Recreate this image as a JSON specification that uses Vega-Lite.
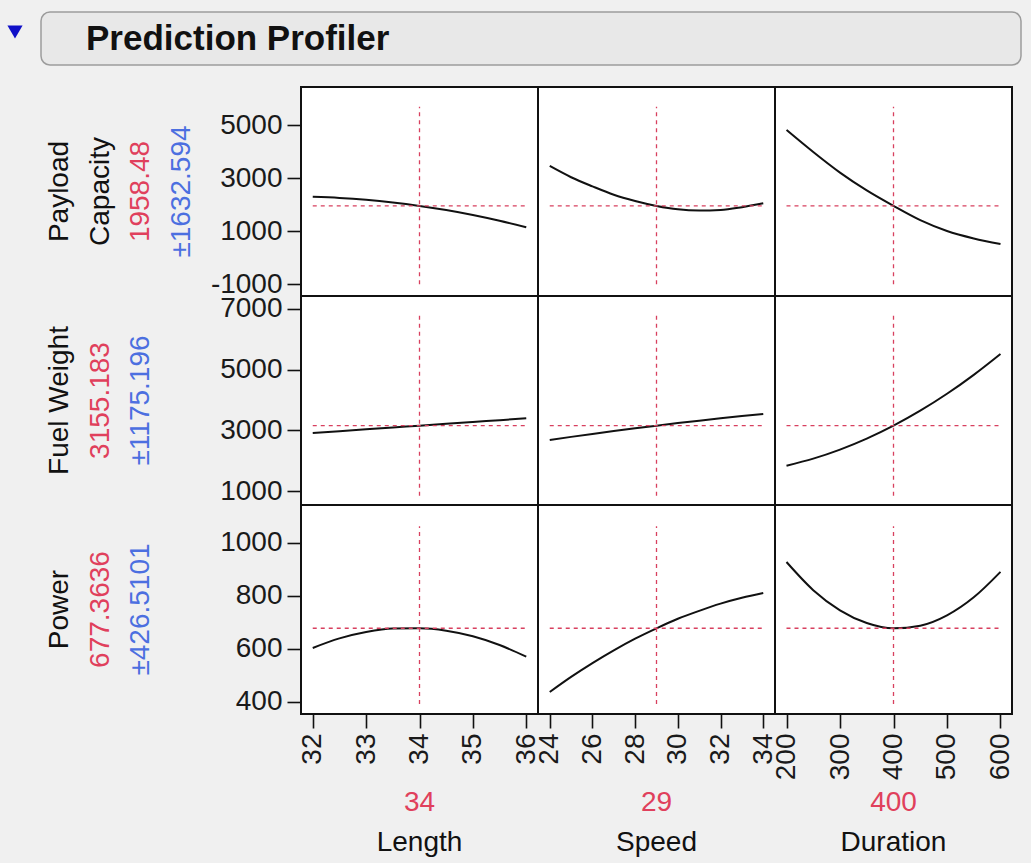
{
  "$schema": "https://vega.github.io/schema/vega-lite/v6.json",
  "background": "#f0f0f0",
  "padding": {"left": 0, "top": 11, "right": 10, "bottom": 9},
  "config": {
    "view": {"stroke": "#111111", "strokeWidth": 2, "fill": "white"},
    "axis": {"domain": false, "grid": false, "tickColor": "#111111", "tickSize": 14, "tickWidth": 1.6, "labelFont": "Liberation Sans", "labelFontSize": 28, "labelColor": "#1a1a1a", "labelPadding": 5, "labelOverlap": false, "labelBound": false, "labelFlush": false}
  },
  "datasets": {
    "curves": [
      {"r": "PC", "f": "Length", "x": 32, "y": 2300}, {"r": "PC", "f": "Length", "x": 32.5, "y": 2258}, {"r": "PC", "f": "Length", "x": 33, "y": 2188}, {"r": "PC", "f": "Length", "x": 33.5, "y": 2088}, {"r": "PC", "f": "Length", "x": 34, "y": 1958}, {"r": "PC", "f": "Length", "x": 34.5, "y": 1800}, {"r": "PC", "f": "Length", "x": 35, "y": 1613}, {"r": "PC", "f": "Length", "x": 35.5, "y": 1396}, {"r": "PC", "f": "Length", "x": 36, "y": 1150},
      {"r": "PC", "f": "Speed", "x": 24, "y": 3464}, {"r": "PC", "f": "Speed", "x": 25, "y": 3040}, {"r": "PC", "f": "Speed", "x": 26, "y": 2695}, {"r": "PC", "f": "Speed", "x": 27, "y": 2380}, {"r": "PC", "f": "Speed", "x": 28, "y": 2145}, {"r": "PC", "f": "Speed", "x": 29, "y": 1958}, {"r": "PC", "f": "Speed", "x": 30, "y": 1830}, {"r": "PC", "f": "Speed", "x": 31, "y": 1785}, {"r": "PC", "f": "Speed", "x": 32, "y": 1805}, {"r": "PC", "f": "Speed", "x": 33, "y": 1910}, {"r": "PC", "f": "Speed", "x": 34, "y": 2057},
      {"r": "PC", "f": "Duration", "x": 200, "y": 4823}, {"r": "PC", "f": "Duration", "x": 250, "y": 3990}, {"r": "PC", "f": "Duration", "x": 300, "y": 3212}, {"r": "PC", "f": "Duration", "x": 350, "y": 2541}, {"r": "PC", "f": "Duration", "x": 400, "y": 1958}, {"r": "PC", "f": "Duration", "x": 450, "y": 1420}, {"r": "PC", "f": "Duration", "x": 500, "y": 1010}, {"r": "PC", "f": "Duration", "x": 550, "y": 730}, {"r": "PC", "f": "Duration", "x": 600, "y": 520},
      {"r": "FW", "f": "Length", "x": 32, "y": 2915}, {"r": "FW", "f": "Length", "x": 32.5, "y": 2975}, {"r": "FW", "f": "Length", "x": 33, "y": 3035}, {"r": "FW", "f": "Length", "x": 33.5, "y": 3095}, {"r": "FW", "f": "Length", "x": 34, "y": 3155}, {"r": "FW", "f": "Length", "x": 34.5, "y": 3215}, {"r": "FW", "f": "Length", "x": 35, "y": 3275}, {"r": "FW", "f": "Length", "x": 35.5, "y": 3335}, {"r": "FW", "f": "Length", "x": 36, "y": 3395},
      {"r": "FW", "f": "Speed", "x": 24, "y": 2685}, {"r": "FW", "f": "Speed", "x": 25, "y": 2786}, {"r": "FW", "f": "Speed", "x": 26, "y": 2883}, {"r": "FW", "f": "Speed", "x": 27, "y": 2977}, {"r": "FW", "f": "Speed", "x": 28, "y": 3068}, {"r": "FW", "f": "Speed", "x": 29, "y": 3155}, {"r": "FW", "f": "Speed", "x": 30, "y": 3239}, {"r": "FW", "f": "Speed", "x": 31, "y": 3319}, {"r": "FW", "f": "Speed", "x": 32, "y": 3396}, {"r": "FW", "f": "Speed", "x": 33, "y": 3470}, {"r": "FW", "f": "Speed", "x": 34, "y": 3540},
      {"r": "FW", "f": "Duration", "x": 200, "y": 1839}, {"r": "FW", "f": "Duration", "x": 250, "y": 2070}, {"r": "FW", "f": "Duration", "x": 300, "y": 2367}, {"r": "FW", "f": "Duration", "x": 350, "y": 2728}, {"r": "FW", "f": "Duration", "x": 400, "y": 3155}, {"r": "FW", "f": "Duration", "x": 450, "y": 3647}, {"r": "FW", "f": "Duration", "x": 500, "y": 4204}, {"r": "FW", "f": "Duration", "x": 550, "y": 4827}, {"r": "FW", "f": "Duration", "x": 600, "y": 5514},
      {"r": "PW", "f": "Length", "x": 32, "y": 603}, {"r": "PW", "f": "Length", "x": 32.5, "y": 639}, {"r": "PW", "f": "Length", "x": 33, "y": 663}, {"r": "PW", "f": "Length", "x": 33.5, "y": 676}, {"r": "PW", "f": "Length", "x": 34, "y": 677}, {"r": "PW", "f": "Length", "x": 34.5, "y": 668}, {"r": "PW", "f": "Length", "x": 35, "y": 647}, {"r": "PW", "f": "Length", "x": 35.5, "y": 614}, {"r": "PW", "f": "Length", "x": 36, "y": 570},
      {"r": "PW", "f": "Speed", "x": 24, "y": 437}, {"r": "PW", "f": "Speed", "x": 25, "y": 494}, {"r": "PW", "f": "Speed", "x": 26, "y": 546}, {"r": "PW", "f": "Speed", "x": 27, "y": 594}, {"r": "PW", "f": "Speed", "x": 28, "y": 638}, {"r": "PW", "f": "Speed", "x": 29, "y": 677}, {"r": "PW", "f": "Speed", "x": 30, "y": 713}, {"r": "PW", "f": "Speed", "x": 31, "y": 743}, {"r": "PW", "f": "Speed", "x": 32, "y": 770}, {"r": "PW", "f": "Speed", "x": 33, "y": 792}, {"r": "PW", "f": "Speed", "x": 34, "y": 810},
      {"r": "PW", "f": "Duration", "x": 200, "y": 927}, {"r": "PW", "f": "Duration", "x": 250, "y": 821}, {"r": "PW", "f": "Duration", "x": 300, "y": 745}, {"r": "PW", "f": "Duration", "x": 350, "y": 697}, {"r": "PW", "f": "Duration", "x": 400, "y": 677}, {"r": "PW", "f": "Duration", "x": 450, "y": 687}, {"r": "PW", "f": "Duration", "x": 500, "y": 726}, {"r": "PW", "f": "Duration", "x": 550, "y": 794}, {"r": "PW", "f": "Duration", "x": 600, "y": 890}
    ],
    "refs": [
      {"r": "PC", "f": "Length", "xmin": 32, "xmax": 36, "xcur": 34, "ycur": 1958.48, "ylo": -1000, "yhi": 5700},
      {"r": "PC", "f": "Speed", "xmin": 24, "xmax": 34, "xcur": 29, "ycur": 1958.48, "ylo": -1000, "yhi": 5700},
      {"r": "PC", "f": "Duration", "xmin": 200, "xmax": 600, "xcur": 400, "ycur": 1958.48, "ylo": -1000, "yhi": 5700},
      {"r": "FW", "f": "Length", "xmin": 32, "xmax": 36, "xcur": 34, "ycur": 3155.183, "ylo": 850, "yhi": 6830},
      {"r": "FW", "f": "Speed", "xmin": 24, "xmax": 34, "xcur": 29, "ycur": 3155.183, "ylo": 850, "yhi": 6830},
      {"r": "FW", "f": "Duration", "xmin": 200, "xmax": 600, "xcur": 400, "ycur": 3155.183, "ylo": 850, "yhi": 6830},
      {"r": "PW", "f": "Length", "xmin": 32, "xmax": 36, "xcur": 34, "ycur": 677.3636, "ylo": 392, "yhi": 1062},
      {"r": "PW", "f": "Speed", "xmin": 24, "xmax": 34, "xcur": 29, "ycur": 677.3636, "ylo": 392, "yhi": 1062},
      {"r": "PW", "f": "Duration", "xmin": 200, "xmax": 600, "xcur": 400, "ycur": 677.3636, "ylo": 392, "yhi": 1062}
    ],
    "labels": [
      {"r": "PC", "line": 0, "text": "Payload", "kind": "name"},
      {"r": "PC", "line": 1, "text": "Capacity", "kind": "name"},
      {"r": "PC", "line": 2, "text": "1958.48", "kind": "value"},
      {"r": "PC", "line": 3, "text": "±1632.594", "kind": "error"},
      {"r": "FW", "line": 0, "text": "Fuel Weight", "kind": "name"},
      {"r": "FW", "line": 1, "text": "3155.183", "kind": "value"},
      {"r": "FW", "line": 2, "text": "±1175.196", "kind": "error"},
      {"r": "PW", "line": 0, "text": "Power", "kind": "name"},
      {"r": "PW", "line": 1, "text": "677.3636", "kind": "value"},
      {"r": "PW", "line": 2, "text": "±426.5101", "kind": "error"}
    ],
    "factors": [
      {"f": "Length", "line": 0, "text": "34", "kind": "value"},
      {"f": "Length", "line": 1, "text": "Length", "kind": "name"},
      {"f": "Speed", "line": 0, "text": "29", "kind": "value"},
      {"f": "Speed", "line": 1, "text": "Speed", "kind": "name"},
      {"f": "Duration", "line": 0, "text": "400", "kind": "value"},
      {"f": "Duration", "line": 1, "text": "Duration", "kind": "name"}
    ]
  },
  "spacing": 20,
  "vconcat": [
    {
      "spacing": 10,
      "hconcat": [
        {"width": 30, "height": 40, "view": {"stroke": null, "fill": null}, "data": {"values": [{"icon": "collapse"}]}, "mark": {"type": "point", "shape": "triangle-down", "filled": true, "color": "#1010c8", "opacity": 1, "size": 230}},
        {"width": 980, "height": 53, "view": {"stroke": "#9c9c9c", "strokeWidth": 1.5, "fill": "#e8e8e8", "cornerRadius": 9},
         "title": {"text": "Prediction Profiler", "orient": "top", "anchor": "start", "frame": "group", "offset": -73, "dx": 45, "baseline": "alphabetic", "fontSize": 35, "font": "Liberation Sans", "fontWeight": "bold", "color": "#111111"},
         "data": {"values": []}, "mark": "point"}
      ]
    },
    {
      "columns": 4,
      "spacing": 0,
      "bounds": "flush",
      "align": "each",
      "concat": [
        {"width": 301, "height": 209, "view": {"stroke": null, "fill": null}, "data": {"name": "labels"}, "transform": [{"filter": "datum.r == 'PC'"}],
         "mark": {"type": "text", "angle": 270, "fontSize": 28, "font": "Liberation Sans", "align": "center", "baseline": "middle"},
         "encoding": {"x": {"field": "line", "type": "quantitative", "scale": {"domain": [-1.474, 5.921], "nice": false, "zero": false}, "axis": null}, "text": {"field": "text"},
                      "color": {"field": "kind", "type": "nominal", "scale": {"domain": ["name", "value", "error"], "range": ["#111111", "#e0405c", "#4c6fe0"]}, "legend": null}}},
        {"width": 237, "height": 209, "layer": [
          {"data": {"name": "curves"}, "transform": [{"filter": "datum.r == 'PC' && datum.f == 'Length'"}], "mark": {"type": "line", "color": "#111111", "strokeWidth": 2, "interpolate": "monotone"},
           "encoding": {"x": {"field": "x", "type": "quantitative", "scale": {"domain": [31.78, 36.22], "nice": false, "zero": false}, "axis": null},
                        "y": {"field": "y", "type": "quantitative", "scale": {"domain": [-1442, 6445], "nice": false, "zero": false}, "axis": {"values": [-1000, 0, 1000, 2000, 3000, 4000, 5000, 6000], "format": "d", "labelExpr": "datum.value % 2000 == 0 ? '' : replace(datum.label, '\u2212', '-')", "title": null}}}},
          {"data": {"name": "refs"}, "transform": [{"filter": "datum.r == 'PC' && datum.f == 'Length'"}], "mark": {"type": "rule", "color": "#d8405f", "strokeWidth": 1.3, "strokeDash": [4, 4]},
           "encoding": {"x": {"field": "xmin", "type": "quantitative", "scale": {"domain": [31.78, 36.22], "nice": false, "zero": false}, "axis": null}, "x2": {"field": "xmax"}, "y": {"field": "ycur", "type": "quantitative", "scale": {"domain": [-1442, 6445], "nice": false, "zero": false}}}},
          {"data": {"name": "refs"}, "transform": [{"filter": "datum.r == 'PC' && datum.f == 'Length'"}], "mark": {"type": "rule", "color": "#d8405f", "strokeWidth": 1.3, "strokeDash": [4, 4]},
           "encoding": {"x": {"field": "xcur", "type": "quantitative", "scale": {"domain": [31.78, 36.22], "nice": false, "zero": false}, "axis": null}, "y": {"field": "ylo", "type": "quantitative", "scale": {"domain": [-1442, 6445], "nice": false, "zero": false}}, "y2": {"field": "yhi"}}}
        ]},
        {"width": 237, "height": 209, "layer": [
          {"data": {"name": "curves"}, "transform": [{"filter": "datum.r == 'PC' && datum.f == 'Speed'"}], "mark": {"type": "line", "color": "#111111", "strokeWidth": 2, "interpolate": "monotone"},
           "encoding": {"x": {"field": "x", "type": "quantitative", "scale": {"domain": [23.45, 34.55], "nice": false, "zero": false}, "axis": null},
                        "y": {"field": "y", "type": "quantitative", "scale": {"domain": [-1442, 6445], "nice": false, "zero": false}, "axis": null}}},
          {"data": {"name": "refs"}, "transform": [{"filter": "datum.r == 'PC' && datum.f == 'Speed'"}], "mark": {"type": "rule", "color": "#d8405f", "strokeWidth": 1.3, "strokeDash": [4, 4]},
           "encoding": {"x": {"field": "xmin", "type": "quantitative", "scale": {"domain": [23.45, 34.55], "nice": false, "zero": false}, "axis": null}, "x2": {"field": "xmax"}, "y": {"field": "ycur", "type": "quantitative", "scale": {"domain": [-1442, 6445], "nice": false, "zero": false}, "axis": null}}},
          {"data": {"name": "refs"}, "transform": [{"filter": "datum.r == 'PC' && datum.f == 'Speed'"}], "mark": {"type": "rule", "color": "#d8405f", "strokeWidth": 1.3, "strokeDash": [4, 4]},
           "encoding": {"x": {"field": "xcur", "type": "quantitative", "scale": {"domain": [23.45, 34.55], "nice": false, "zero": false}, "axis": null}, "y": {"field": "ylo", "type": "quantitative", "scale": {"domain": [-1442, 6445], "nice": false, "zero": false}, "axis": null}, "y2": {"field": "yhi"}}}
        ]},
        {"width": 237, "height": 209, "layer": [
          {"data": {"name": "curves"}, "transform": [{"filter": "datum.r == 'PC' && datum.f == 'Duration'"}], "mark": {"type": "line", "color": "#111111", "strokeWidth": 2, "interpolate": "monotone"},
           "encoding": {"x": {"field": "x", "type": "quantitative", "scale": {"domain": [178.5, 621.5], "nice": false, "zero": false}, "axis": null},
                        "y": {"field": "y", "type": "quantitative", "scale": {"domain": [-1442, 6445], "nice": false, "zero": false}, "axis": null}}},
          {"data": {"name": "refs"}, "transform": [{"filter": "datum.r == 'PC' && datum.f == 'Duration'"}], "mark": {"type": "rule", "color": "#d8405f", "strokeWidth": 1.3, "strokeDash": [4, 4]},
           "encoding": {"x": {"field": "xmin", "type": "quantitative", "scale": {"domain": [178.5, 621.5], "nice": false, "zero": false}, "axis": null}, "x2": {"field": "xmax"}, "y": {"field": "ycur", "type": "quantitative", "scale": {"domain": [-1442, 6445], "nice": false, "zero": false}, "axis": null}}},
          {"data": {"name": "refs"}, "transform": [{"filter": "datum.r == 'PC' && datum.f == 'Duration'"}], "mark": {"type": "rule", "color": "#d8405f", "strokeWidth": 1.3, "strokeDash": [4, 4]},
           "encoding": {"x": {"field": "xcur", "type": "quantitative", "scale": {"domain": [178.5, 621.5], "nice": false, "zero": false}, "axis": null}, "y": {"field": "ylo", "type": "quantitative", "scale": {"domain": [-1442, 6445], "nice": false, "zero": false}, "axis": null}, "y2": {"field": "yhi"}}}
        ]},

        {"width": 301, "height": 209, "view": {"stroke": null, "fill": null}, "data": {"name": "labels"}, "transform": [{"filter": "datum.r == 'FW'"}],
         "mark": {"type": "text", "angle": 270, "fontSize": 28, "font": "Liberation Sans", "align": "center", "baseline": "middle"},
         "encoding": {"x": {"field": "line", "type": "quantitative", "scale": {"domain": [-1.474, 5.921], "nice": false, "zero": false}, "axis": null}, "text": {"field": "text"},
                      "color": {"field": "kind", "type": "nominal", "scale": {"domain": ["name", "value", "error"], "range": ["#111111", "#e0405c", "#4c6fe0"]}, "legend": null}}},
        {"width": 237, "height": 209, "layer": [
          {"data": {"name": "curves"}, "transform": [{"filter": "datum.r == 'FW' && datum.f == 'Length'"}], "mark": {"type": "line", "color": "#111111", "strokeWidth": 2, "interpolate": "monotone"},
           "encoding": {"x": {"field": "x", "type": "quantitative", "scale": {"domain": [31.78, 36.22], "nice": false, "zero": false}, "axis": null},
                        "y": {"field": "y", "type": "quantitative", "scale": {"domain": [545, 7420], "nice": false, "zero": false}, "axis": {"values": [1000, 2000, 3000, 4000, 5000, 6000, 7000], "format": "d", "labelExpr": "datum.value % 2000 == 0 ? '' : datum.label", "title": null}}}},
          {"data": {"name": "refs"}, "transform": [{"filter": "datum.r == 'FW' && datum.f == 'Length'"}], "mark": {"type": "rule", "color": "#d8405f", "strokeWidth": 1.3, "strokeDash": [4, 4]},
           "encoding": {"x": {"field": "xmin", "type": "quantitative", "scale": {"domain": [31.78, 36.22], "nice": false, "zero": false}, "axis": null}, "x2": {"field": "xmax"}, "y": {"field": "ycur", "type": "quantitative", "scale": {"domain": [545, 7420], "nice": false, "zero": false}}}},
          {"data": {"name": "refs"}, "transform": [{"filter": "datum.r == 'FW' && datum.f == 'Length'"}], "mark": {"type": "rule", "color": "#d8405f", "strokeWidth": 1.3, "strokeDash": [4, 4]},
           "encoding": {"x": {"field": "xcur", "type": "quantitative", "scale": {"domain": [31.78, 36.22], "nice": false, "zero": false}, "axis": null}, "y": {"field": "ylo", "type": "quantitative", "scale": {"domain": [545, 7420], "nice": false, "zero": false}}, "y2": {"field": "yhi"}}}
        ]},
        {"width": 237, "height": 209, "layer": [
          {"data": {"name": "curves"}, "transform": [{"filter": "datum.r == 'FW' && datum.f == 'Speed'"}], "mark": {"type": "line", "color": "#111111", "strokeWidth": 2, "interpolate": "monotone"},
           "encoding": {"x": {"field": "x", "type": "quantitative", "scale": {"domain": [23.45, 34.55], "nice": false, "zero": false}, "axis": null},
                        "y": {"field": "y", "type": "quantitative", "scale": {"domain": [545, 7420], "nice": false, "zero": false}, "axis": null}}},
          {"data": {"name": "refs"}, "transform": [{"filter": "datum.r == 'FW' && datum.f == 'Speed'"}], "mark": {"type": "rule", "color": "#d8405f", "strokeWidth": 1.3, "strokeDash": [4, 4]},
           "encoding": {"x": {"field": "xmin", "type": "quantitative", "scale": {"domain": [23.45, 34.55], "nice": false, "zero": false}, "axis": null}, "x2": {"field": "xmax"}, "y": {"field": "ycur", "type": "quantitative", "scale": {"domain": [545, 7420], "nice": false, "zero": false}, "axis": null}}},
          {"data": {"name": "refs"}, "transform": [{"filter": "datum.r == 'FW' && datum.f == 'Speed'"}], "mark": {"type": "rule", "color": "#d8405f", "strokeWidth": 1.3, "strokeDash": [4, 4]},
           "encoding": {"x": {"field": "xcur", "type": "quantitative", "scale": {"domain": [23.45, 34.55], "nice": false, "zero": false}, "axis": null}, "y": {"field": "ylo", "type": "quantitative", "scale": {"domain": [545, 7420], "nice": false, "zero": false}, "axis": null}, "y2": {"field": "yhi"}}}
        ]},
        {"width": 237, "height": 209, "layer": [
          {"data": {"name": "curves"}, "transform": [{"filter": "datum.r == 'FW' && datum.f == 'Duration'"}], "mark": {"type": "line", "color": "#111111", "strokeWidth": 2, "interpolate": "monotone"},
           "encoding": {"x": {"field": "x", "type": "quantitative", "scale": {"domain": [178.5, 621.5], "nice": false, "zero": false}, "axis": null},
                        "y": {"field": "y", "type": "quantitative", "scale": {"domain": [545, 7420], "nice": false, "zero": false}, "axis": null}}},
          {"data": {"name": "refs"}, "transform": [{"filter": "datum.r == 'FW' && datum.f == 'Duration'"}], "mark": {"type": "rule", "color": "#d8405f", "strokeWidth": 1.3, "strokeDash": [4, 4]},
           "encoding": {"x": {"field": "xmin", "type": "quantitative", "scale": {"domain": [178.5, 621.5], "nice": false, "zero": false}, "axis": null}, "x2": {"field": "xmax"}, "y": {"field": "ycur", "type": "quantitative", "scale": {"domain": [545, 7420], "nice": false, "zero": false}, "axis": null}}},
          {"data": {"name": "refs"}, "transform": [{"filter": "datum.r == 'FW' && datum.f == 'Duration'"}], "mark": {"type": "rule", "color": "#d8405f", "strokeWidth": 1.3, "strokeDash": [4, 4]},
           "encoding": {"x": {"field": "xcur", "type": "quantitative", "scale": {"domain": [178.5, 621.5], "nice": false, "zero": false}, "axis": null}, "y": {"field": "ylo", "type": "quantitative", "scale": {"domain": [545, 7420], "nice": false, "zero": false}, "axis": null}, "y2": {"field": "yhi"}}}
        ]},

        {"width": 301, "height": 209, "view": {"stroke": null, "fill": null}, "data": {"name": "labels"}, "transform": [{"filter": "datum.r == 'PW'"}],
         "mark": {"type": "text", "angle": 270, "fontSize": 28, "font": "Liberation Sans", "align": "center", "baseline": "middle"},
         "encoding": {"x": {"field": "line", "type": "quantitative", "scale": {"domain": [-1.474, 5.921], "nice": false, "zero": false}, "axis": null}, "text": {"field": "text"},
                      "color": {"field": "kind", "type": "nominal", "scale": {"domain": ["name", "value", "error"], "range": ["#111111", "#e0405c", "#4c6fe0"]}, "legend": null}}},
        {"width": 237, "height": 209, "layer": [
          {"data": {"name": "curves"}, "transform": [{"filter": "datum.r == 'PW' && datum.f == 'Length'"}], "mark": {"type": "line", "color": "#111111", "strokeWidth": 2, "interpolate": "monotone"},
           "encoding": {"x": {"field": "x", "type": "quantitative", "scale": {"domain": [31.78, 36.22], "nice": false, "zero": false}, "axis": {"values": [32, 32.5, 33, 33.5, 34, 34.5, 35, 35.5, 36], "format": "d", "labelAngle": 270, "labelExpr": "datum.value % 1 == 0 ? datum.label : ''", "title": null}},
                        "y": {"field": "y", "type": "quantitative", "scale": {"domain": [354, 1142], "nice": false, "zero": false}, "axis": {"values": [400, 500, 600, 700, 800, 900, 1000, 1100], "format": "d", "labelExpr": "datum.value % 200 == 0 ? datum.label : ''", "title": null}}}},
          {"data": {"name": "refs"}, "transform": [{"filter": "datum.r == 'PW' && datum.f == 'Length'"}], "mark": {"type": "rule", "color": "#d8405f", "strokeWidth": 1.3, "strokeDash": [4, 4]},
           "encoding": {"x": {"field": "xmin", "type": "quantitative", "scale": {"domain": [31.78, 36.22], "nice": false, "zero": false}}, "x2": {"field": "xmax"}, "y": {"field": "ycur", "type": "quantitative", "scale": {"domain": [354, 1142], "nice": false, "zero": false}}}},
          {"data": {"name": "refs"}, "transform": [{"filter": "datum.r == 'PW' && datum.f == 'Length'"}], "mark": {"type": "rule", "color": "#d8405f", "strokeWidth": 1.3, "strokeDash": [4, 4]},
           "encoding": {"x": {"field": "xcur", "type": "quantitative", "scale": {"domain": [31.78, 36.22], "nice": false, "zero": false}}, "y": {"field": "ylo", "type": "quantitative", "scale": {"domain": [354, 1142], "nice": false, "zero": false}}, "y2": {"field": "yhi"}}}
        ]},
        {"width": 237, "height": 209, "layer": [
          {"data": {"name": "curves"}, "transform": [{"filter": "datum.r == 'PW' && datum.f == 'Speed'"}], "mark": {"type": "line", "color": "#111111", "strokeWidth": 2, "interpolate": "monotone"},
           "encoding": {"x": {"field": "x", "type": "quantitative", "scale": {"domain": [23.45, 34.55], "nice": false, "zero": false}, "axis": {"values": [24, 25, 26, 27, 28, 29, 30, 31, 32, 33, 34], "format": "d", "labelAngle": 270, "labelExpr": "datum.value % 2 == 0 ? datum.label : ''", "title": null}},
                        "y": {"field": "y", "type": "quantitative", "scale": {"domain": [354, 1142], "nice": false, "zero": false}, "axis": null}}},
          {"data": {"name": "refs"}, "transform": [{"filter": "datum.r == 'PW' && datum.f == 'Speed'"}], "mark": {"type": "rule", "color": "#d8405f", "strokeWidth": 1.3, "strokeDash": [4, 4]},
           "encoding": {"x": {"field": "xmin", "type": "quantitative", "scale": {"domain": [23.45, 34.55], "nice": false, "zero": false}}, "x2": {"field": "xmax"}, "y": {"field": "ycur", "type": "quantitative", "scale": {"domain": [354, 1142], "nice": false, "zero": false}, "axis": null}}},
          {"data": {"name": "refs"}, "transform": [{"filter": "datum.r == 'PW' && datum.f == 'Speed'"}], "mark": {"type": "rule", "color": "#d8405f", "strokeWidth": 1.3, "strokeDash": [4, 4]},
           "encoding": {"x": {"field": "xcur", "type": "quantitative", "scale": {"domain": [23.45, 34.55], "nice": false, "zero": false}}, "y": {"field": "ylo", "type": "quantitative", "scale": {"domain": [354, 1142], "nice": false, "zero": false}, "axis": null}, "y2": {"field": "yhi"}}}
        ]},
        {"width": 237, "height": 209, "layer": [
          {"data": {"name": "curves"}, "transform": [{"filter": "datum.r == 'PW' && datum.f == 'Duration'"}], "mark": {"type": "line", "color": "#111111", "strokeWidth": 2, "interpolate": "monotone"},
           "encoding": {"x": {"field": "x", "type": "quantitative", "scale": {"domain": [178.5, 621.5], "nice": false, "zero": false}, "axis": {"values": [200, 250, 300, 350, 400, 450, 500, 550, 600], "format": "d", "labelAngle": 270, "labelExpr": "datum.value % 100 == 0 ? datum.label : ''", "title": null}},
                        "y": {"field": "y", "type": "quantitative", "scale": {"domain": [354, 1142], "nice": false, "zero": false}, "axis": null}}},
          {"data": {"name": "refs"}, "transform": [{"filter": "datum.r == 'PW' && datum.f == 'Duration'"}], "mark": {"type": "rule", "color": "#d8405f", "strokeWidth": 1.3, "strokeDash": [4, 4]},
           "encoding": {"x": {"field": "xmin", "type": "quantitative", "scale": {"domain": [178.5, 621.5], "nice": false, "zero": false}}, "x2": {"field": "xmax"}, "y": {"field": "ycur", "type": "quantitative", "scale": {"domain": [354, 1142], "nice": false, "zero": false}, "axis": null}}},
          {"data": {"name": "refs"}, "transform": [{"filter": "datum.r == 'PW' && datum.f == 'Duration'"}], "mark": {"type": "rule", "color": "#d8405f", "strokeWidth": 1.3, "strokeDash": [4, 4]},
           "encoding": {"x": {"field": "xcur", "type": "quantitative", "scale": {"domain": [178.5, 621.5], "nice": false, "zero": false}}, "y": {"field": "ylo", "type": "quantitative", "scale": {"domain": [354, 1142], "nice": false, "zero": false}, "axis": null}, "y2": {"field": "yhi"}}}
        ]},

        {"width": 301, "height": 140, "view": {"stroke": null, "fill": null}, "data": {"values": []}, "mark": "point"},
        {"width": 237, "height": 140, "view": {"stroke": null, "fill": null}, "data": {"name": "factors"}, "transform": [{"filter": "datum.f == 'Length'"}],
         "mark": {"type": "text", "fontSize": 28, "font": "Liberation Sans", "align": "center", "baseline": "middle"},
         "encoding": {"y": {"field": "line", "type": "quantitative", "scale": {"domain": [-2.225, 1.275], "reverse": true, "nice": false, "zero": false}, "axis": null}, "text": {"field": "text"},
                      "color": {"field": "kind", "type": "nominal", "scale": {"domain": ["name", "value", "error"], "range": ["#111111", "#e0405c", "#4c6fe0"]}, "legend": null}}},
        {"width": 237, "height": 140, "view": {"stroke": null, "fill": null}, "data": {"name": "factors"}, "transform": [{"filter": "datum.f == 'Speed'"}],
         "mark": {"type": "text", "fontSize": 28, "font": "Liberation Sans", "align": "center", "baseline": "middle"},
         "encoding": {"y": {"field": "line", "type": "quantitative", "scale": {"domain": [-2.225, 1.275], "reverse": true, "nice": false, "zero": false}, "axis": null}, "text": {"field": "text"},
                      "color": {"field": "kind", "type": "nominal", "scale": {"domain": ["name", "value", "error"], "range": ["#111111", "#e0405c", "#4c6fe0"]}, "legend": null}}},
        {"width": 237, "height": 140, "view": {"stroke": null, "fill": null}, "data": {"name": "factors"}, "transform": [{"filter": "datum.f == 'Duration'"}],
         "mark": {"type": "text", "fontSize": 28, "font": "Liberation Sans", "align": "center", "baseline": "middle"},
         "encoding": {"y": {"field": "line", "type": "quantitative", "scale": {"domain": [-2.225, 1.275], "reverse": true, "nice": false, "zero": false}, "axis": null}, "text": {"field": "text"},
                      "color": {"field": "kind", "type": "nominal", "scale": {"domain": ["name", "value", "error"], "range": ["#111111", "#e0405c", "#4c6fe0"]}, "legend": null}}}
      ]
    }
  ]
}
